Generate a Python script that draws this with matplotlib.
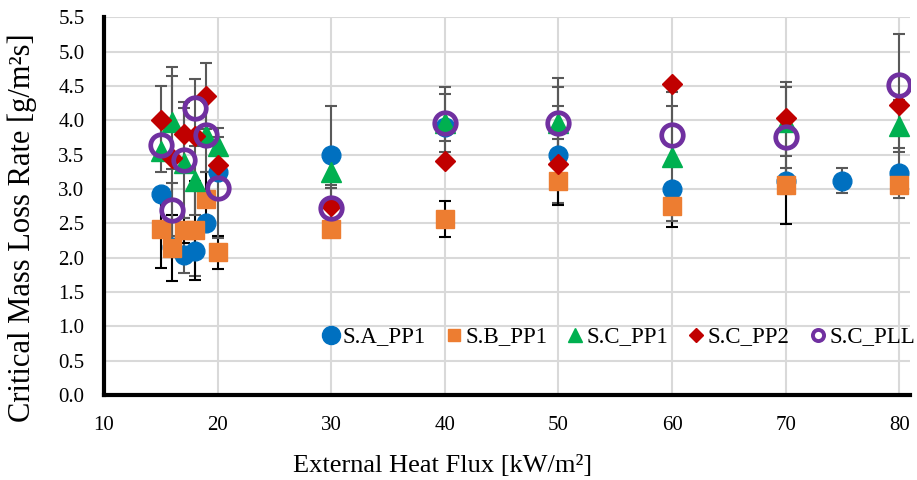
import matplotlib
matplotlib.use("Agg")
import matplotlib.pyplot as plt
from matplotlib.lines import Line2D

plt.rcParams['font.family'] = ['Liberation Serif', 'DejaVu Serif']

# Heat flux levels [kW/m2]
x_sa = [15, 16, 17, 18, 19, 20, 30, 40, 50, 60, 70, 75, 80]
x_other = [15, 16, 17, 18, 19, 20, 30, 40, 50, 60, 70, 80]

# Critical mass loss rate [g/m2s] and their uncertainties
sa_pp1 = [2.93, 2.15, 2.04, 2.10, 2.50, 3.25, 3.50, 3.90, 3.50, 3.00, 3.11, 3.12, 3.23]
sa_pp1_err = [0.0, 0.0, 0.26, 0.37, 0.0, 0.0, 0.71, 0.20, 0.70, 0.0, 0.19, 0.18, 0.36]

sb_pp1 = [2.41, 2.14, 2.40, 2.40, 2.85, 2.08, 2.42, 2.56, 3.11, 2.75, 3.05, 3.05]
sb_pp1_err = [0.56, 0.48, 0.18, 0.72, 0.40, 0.24, 0.0, 0.26, 0.35, 0.31, 0.56, 0.0]

sc_pp1 = [3.55, 3.97, 3.38, 3.12, 3.78, 3.62, 3.25, 3.96, 3.96, 3.47, 3.98, 3.92]
sc_pp1_err = [0.0, 0.68, 0.80, 0.50, 0.0, 0.26, 0.19, 0.42, 0.52, 0.94, 0.50, 0.38]

sc_pp2 = [4.00, 3.45, 3.80, 3.77, 4.35, 3.35, 2.75, 3.41, 3.37, 4.53, 4.03, 4.22]
sc_pp2_err = [0.50, 1.33, 0.46, 0.0, 0.48, 0.0, 0.0, 0.0, 0.35, 0.0, 0.0, 0.0]

sc_pll = [3.64, 2.70, 3.42, 4.18, 3.79, 3.02, 2.72, 3.96, 3.96, 3.79, 3.76, 4.52]
sc_pll_err = [0.40, 0.39, 0.0, 0.42, 0.55, 0.73, 0.29, 0.53, 0.65, 0.42, 0.79, 0.74]

labels = ['S.A_PP1', 'S.B_PP1', 'S.C_PP1', 'S.C_PP2', 'S.C_PLL']
y_ticks = [0.0, 0.5, 1.0, 1.5, 2.0, 2.5, 3.0, 3.5, 4.0, 4.5, 5.0, 5.5]
x_ticks = [10, 20, 30, 40, 50, 60, 70, 80]

BLUE = '#0070C0'
ORANGE = '#ED7D31'
GREEN = '#00B050'
RED = '#C00000'
PURPLE = '#7030A0'
GRAY = '#595959'

fig = plt.figure(figsize=(9.17, 4.8), dpi=100)
ax = fig.add_axes([104 / 917, 1 - 395 / 480, (910 - 104) / 917, (395 - 17.2) / 480])

series = [
    (x_sa, sa_pp1, sa_pp1_err, GRAY),
    (x_other, sb_pp1, sb_pp1_err, 'black'),
    (x_other, sc_pp1, sc_pp1_err, GRAY),
    (x_other, sc_pp2, sc_pp2_err, GRAY),
    (x_other, sc_pll, sc_pll_err, GRAY),
]

# error bars sit underneath all markers
for xs, ys, es, col in series:
    xe = [x for x, e in zip(xs, es) if e > 0]
    ye = [y for y, e in zip(ys, es) if e > 0]
    ee = [e for e in es if e > 0]
    ax.errorbar(xe, ye, yerr=ee, fmt='none', ecolor=col, elinewidth=1.5,
                capsize=4.5, capthick=1.5, zorder=2, clip_on=False)

ax.plot(x_sa, sa_pp1, 'o', color=BLUE, ms=13.5, mec=BLUE, zorder=3)
ax.plot(x_other, sb_pp1, 's', color=ORANGE, ms=13.5, mec=ORANGE, zorder=4)
ax.plot(x_other, sc_pp1, '^', color=GREEN, ms=15, mec=GREEN, zorder=5)
ax.plot(x_other, sc_pp2, 'D', color=RED, ms=10, mec=RED, zorder=6)
ax.plot(x_other, sc_pll, 'o', mfc='none', mec=PURPLE, ms=15.5, mew=3.4, zorder=7)

ax.set_xlim(10, 80.95)
ax.set_ylim(0, 5.5)
ax.set_xticks(x_ticks)
ax.set_yticks(y_ticks)
ax.set_yticklabels([f'{v:.1f}' for v in y_ticks])
ax.tick_params(axis='both', length=0, labelsize=15)
ax.tick_params(axis='x', pad=15)
ax.tick_params(axis='y', pad=14)
ax.grid(True, color='#D9D9D9', linewidth=1.5)
ax.set_axisbelow(True)
for s in ['top', 'right']:
    ax.spines[s].set_visible(False)
for s in ['left', 'bottom']:
    ax.spines[s].set_linewidth(3)
    ax.spines[s].set_color('black')
    ax.spines[s].set_zorder(8)

fig.text(443 / 917, 1 - 466 / 480, 'External Heat Flux [kW/m²]',
         ha='center', va='center', fontsize=19)
fig.text(22 / 917, 1 - 228 / 480, 'Critical Mass Loss Rate [g/m²s]',
         ha='center', va='center', rotation=90, fontsize=22)

handles = [
    Line2D([], [], ls='none', marker='o', color=BLUE, ms=13),
    Line2D([], [], ls='none', marker='s', color=ORANGE, ms=9),
    Line2D([], [], ls='none', marker='^', color=GREEN, ms=10),
    Line2D([], [], ls='none', marker='D', color=RED, ms=7),
    Line2D([], [], ls='none', marker='o', mfc='none', mec=PURPLE, ms=8, mew=2.8),
]
fig.legend(handles, labels, loc='center left', bbox_to_anchor=(322 / 917, 1 - 337 / 480),
           ncol=5, frameon=False, fontsize=16.5, handlelength=0.8, handletextpad=0.1,
           columnspacing=0.82, borderpad=0, borderaxespad=0)

fig.savefig('out.png', dpi=100)
